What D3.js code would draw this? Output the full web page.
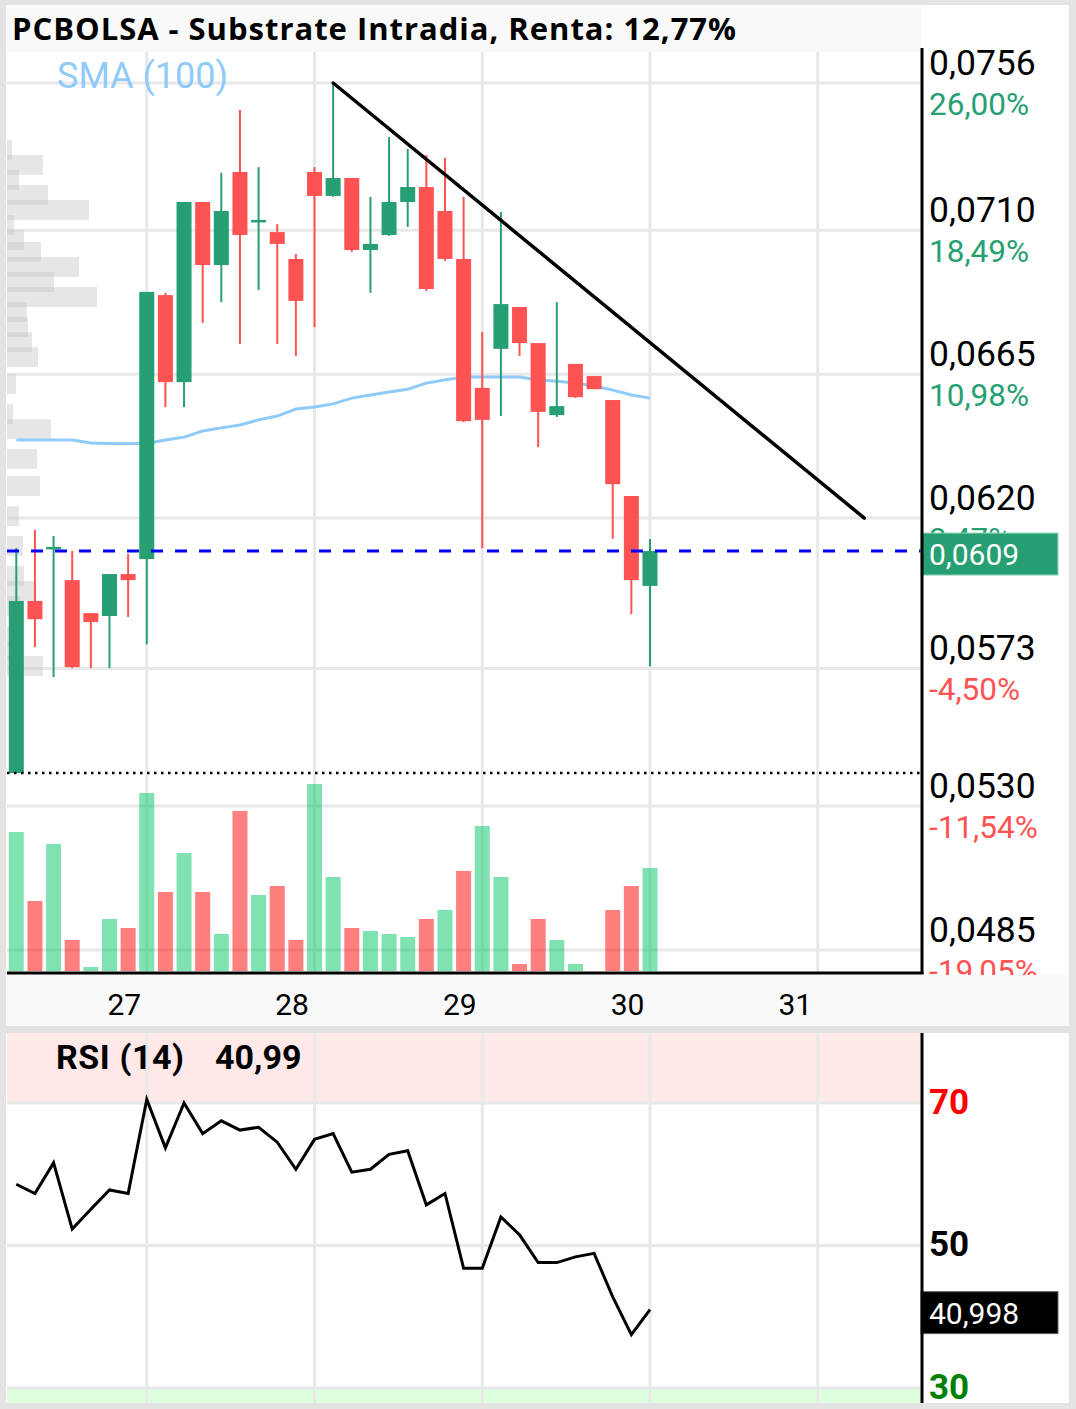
<!DOCTYPE html>
<html>
<head>
<meta charset="utf-8">
<script src="https://cdn.jsdelivr.net/npm/d3@7"></script>
<style>
  body { margin: 0; background: #fff; }
  svg { display: block; }
</style>
</head>
<body>
<div id="content"></div>
<script>
// Chart data (hourly candles, 9 per session)
const open  = [0.05403, 0.05941, 0.06103, 0.06006, 0.05903, 0.05894, 0.06025, 0.06072, 0.06897, 0.06625,
               0.07188, 0.06991, 0.07282, 0.07126, 0.07094, 0.07010, 0.07282, 0.07207, 0.07263, 0.07038,
               0.07085, 0.07188, 0.07235, 0.07160, 0.07010, 0.06607, 0.06729, 0.06860, 0.06747, 0.06522,
               0.06682, 0.06644, 0.06569, 0.06269, 0.05988];
const high  = [0.06106, 0.06163, 0.06144, 0.06097, 0.05903, 0.06025, 0.06088, 0.06907, 0.06904, 0.07188,
               0.07188, 0.07279, 0.07476, 0.07297, 0.07119, 0.07026, 0.07297, 0.07560, 0.07263, 0.07204,
               0.07391, 0.07354, 0.07335, 0.07326, 0.07204, 0.06782, 0.07157, 0.06860, 0.06747, 0.06875,
               0.06682, 0.06644, 0.06569, 0.06269, 0.06135];
const low   = [0.05403, 0.05797, 0.05703, 0.05731, 0.05731, 0.05731, 0.05891, 0.05806, 0.06547, 0.06547,
               0.06810, 0.06875, 0.06744, 0.06913, 0.06744, 0.06707, 0.06797, 0.07204, 0.07032, 0.06904,
               0.07082, 0.07110, 0.06910, 0.07004, 0.06500, 0.06106, 0.06519, 0.06707, 0.06422, 0.06516,
               0.06575, 0.06603, 0.06135, 0.05900, 0.05737];
const close = [0.05941, 0.05884, 0.06110, 0.05734, 0.05875, 0.06025, 0.06006, 0.06907, 0.06625, 0.07188,
               0.06991, 0.07160, 0.07085, 0.07132, 0.07057, 0.06879, 0.07207, 0.07263, 0.07038, 0.07057,
               0.07188, 0.07235, 0.06916, 0.07010, 0.06503, 0.06507, 0.06869, 0.06747, 0.06532, 0.06550,
               0.06578, 0.06603, 0.06306, 0.06006, 0.06097];
const volume = [139, 70, 127, 31, 4, 52, 43, 178, 79, 118, 79, 37, 160, 76, 85, 31, 187, 94, 43, 40,
                37, 34, 52, 61, 100, 145, 94, 7, 52, 31, 7, 0, 61, 85, 103];
const sma100 = [0.06444, 0.06444, 0.06444, 0.06444, 0.06435, 0.06433, 0.06433, 0.06433, 0.06444, 0.06453,
                0.06472, 0.06482, 0.06491, 0.06507, 0.06519, 0.06541, 0.06547, 0.06557, 0.06575, 0.06585,
                0.06594, 0.06603, 0.06622, 0.06632, 0.06641, 0.06641, 0.06641, 0.06641, 0.06632, 0.06628,
                0.06622, 0.06613, 0.06600, 0.06585, 0.06575];
const rsi14 = [58.6, 57.3, 61.6, 52.3, 55.1, 57.8, 57.3, 70.5, 63.7, 70.0,
               65.7, 67.5, 66.2, 66.6, 64.5, 60.7, 64.9, 65.7, 60.3, 60.7,
               62.8, 63.3, 55.7, 57.3, 46.8, 46.8, 54.0, 51.5, 47.6, 47.6,
               48.4, 48.9, 42.8, 37.5, 41.0];

// Volume profile (price level, volume)
const profilePrice = [0.07351, 0.07304, 0.07257, 0.07210, 0.07163, 0.07116, 0.07069, 0.07032, 0.06985, 0.06938,
                      0.06891, 0.06844, 0.06797, 0.06750, 0.06703, 0.06619, 0.06525, 0.06478, 0.06385, 0.06300,
                      0.06206, 0.06113, 0.06019, 0.05972, 0.05925, 0.05831, 0.05784, 0.05738];
const profileVol = [5, 36, 12, 41, 82, 7, 17, 34, 72, 47, 90, 20, 21, 25, 31, 9, 6, 44, 30, 33,
                    12, 16, 17, 28, 13, 7, 15, 36];

// Axis ticks
const dayLabels = ["27", "28", "29", "30", "31"];
const dayStart = [7, 16, 25, 34, 43];
const priceTicks = [0.0756, 0.0710, 0.0665, 0.0620, 0.0573, 0.0530, 0.0485];
const pctTicks = [26.00, 18.49, 10.98, 3.47, -4.50, -11.54, -19.05];
const rsiTicks = [70, 50, 30];
const rsiTickColor = ["#ff0000", "#000000", "#008000"];

// Trend line drawn by hand (candle index, price)
const trendLine = [[17, 0.0756], [45.5, 0.0620]];
const lastPrice = 0.0609;
const lastRsi = 40.998;
const title = "PCBOLSA - Substrate Intradia, Renta: 12,77%";

// Layout
const width = 1076;
const height = 1409;
const left = 7, right = 922;
const green = "#26a072", red = "#ff5252";
const gridColor = "#e8e8e8";

const locale = d3.formatLocale({decimal: ",", thousands: ".", grouping: [3], currency: ["", ""], minus: "-"});
const fmtPrice = locale.format(".4f");
const fmtPct = locale.format(".2f");
const fmtRsi3 = locale.format(".3f");
const fmtRsi2 = locale.format(".2f");

// Scales
const x = d3.scaleLinear().domain([0, 34]).range([16.3, 650]);
const y = d3.scaleLinear().domain([0.0485, 0.0756]).range([950, 83]);
const yVol = d3.scaleLinear().domain([0, 200]).range([971, 771]);
const yRsi = d3.scaleLinear().domain([30, 70]).range([1388, 1103]);
const wProf = d3.scaleLinear().domain([0, 100]).range([0, 100]);
const candleW = 15;

const svg = d3.select("#content")
  .append("svg")
  .attr("width", width)
  .attr("height", height)
  .attr("viewBox", `0 0 ${width} ${height}`)
  .style("font-family", "Roboto, sans-serif");

// Frame and panel backgrounds
svg.append("rect").attr("width", width).attr("height", height).attr("fill", "#e3e3e3");
svg.append("rect").attr("x", 6).attr("y", 5).attr("width", 1063).attr("height", 1398).attr("fill", "#fff");
svg.append("rect").attr("x", left).attr("y", 5).attr("width", right - left).attr("height", 47).attr("fill", "#f9f9f9");

// Price pane grid
const price = svg.append("g");
price.selectAll("line.vgrid")
  .data(dayStart)
  .enter().append("line")
  .attr("x1", d => x(d)).attr("x2", d => x(d))
  .attr("y1", 52).attr("y2", 972)
  .attr("stroke", gridColor).attr("stroke-width", 3);
price.selectAll("line.hgrid")
  .data(priceTicks)
  .enter().append("line")
  .attr("x1", left).attr("x2", right)
  .attr("y1", d => y(d)).attr("y2", d => y(d))
  .attr("stroke", gridColor).attr("stroke-width", 3);

// Volume profile on the left
const binHalf = 0.00031;
price.selectAll("rect.profile")
  .data(profilePrice)
  .enter().append("rect")
  .attr("x", left)
  .attr("y", d => y(d + binHalf))
  .attr("width", (d, i) => wProf(profileVol[i]))
  .attr("height", d => y(d - binHalf) - y(d + binHalf))
  .attr("fill", "rgba(195,195,195,0.42)");

// Volume bars
price.selectAll("rect.vol")
  .data(volume)
  .enter().append("rect")
  .attr("x", (d, i) => x(i) - candleW / 2)
  .attr("y", d => yVol(d))
  .attr("width", candleW)
  .attr("height", d => yVol(0) - yVol(d))
  .attr("fill", (d, i) => (i === 0 || close[i] >= close[i - 1]) ? "rgba(0,200,100,0.5)" : "rgba(255,0,0,0.5)");

// SMA line
price.append("path")
  .datum(sma100)
  .attr("fill", "none")
  .attr("stroke", "#90caf9")
  .attr("stroke-width", 3)
  .attr("d", d3.line().x((d, i) => x(i)).y(d => y(d)));

// Candles
const candles = price.selectAll("g.candle")
  .data(close)
  .enter().append("g")
  .attr("fill", (d, i) => d >= open[i] ? green : red)
  .attr("stroke", (d, i) => d >= open[i] ? green : red);
candles.append("line")
  .attr("x1", (d, i) => x(i)).attr("x2", (d, i) => x(i))
  .attr("y1", (d, i) => y(high[i])).attr("y2", (d, i) => y(low[i]))
  .attr("stroke-width", 2);
candles.append("rect")
  .attr("stroke", "none")
  .attr("x", (d, i) => x(i) - candleW / 2)
  .attr("width", candleW)
  .attr("y", (d, i) => y(Math.max(d, open[i])))
  .attr("height", (d, i) => Math.max(2.5, Math.abs(y(d) - y(open[i]))));

// Last price line and lowest low line
price.append("line")
  .attr("x1", left).attr("x2", right)
  .attr("y1", y(close[close.length - 1])).attr("y2", y(close[close.length - 1]))
  .attr("stroke", "#0000ff").attr("stroke-width", 3).attr("stroke-dasharray", "12 12");
price.append("line")
  .attr("x1", left).attr("x2", right)
  .attr("y1", y(d3.min(low))).attr("y2", y(d3.min(low)))
  .attr("stroke", "#000").attr("stroke-width", 2.5).attr("stroke-dasharray", "2.5 4.5");

// Trend line
price.append("line")
  .attr("x1", x(trendLine[0][0])).attr("y1", y(trendLine[0][1]))
  .attr("x2", x(trendLine[1][0])).attr("y2", y(trendLine[1][1]))
  .attr("stroke", "#000").attr("stroke-width", 3.5).attr("stroke-linecap", "round");

// Price axis labels
const yAxis = d3.axisRight(y).tickValues(priceTicks).tickFormat(fmtPrice).tickSize(0).tickPadding(0);
const gy = svg.append("g")
  .attr("transform", `translate(929,0)`)
  .call(yAxis)
  .call(g => g.select(".domain").remove());
gy.selectAll(".tick text")
  .attr("dy", -9).attr("font-size", 35.5).attr("font-family", "Roboto, sans-serif").attr("fill", "#000");
gy.selectAll(".tick").append("text")
  .attr("x", 0).attr("dy", 31)
  .attr("font-size", 31.5).attr("font-family", "Roboto, sans-serif")
  .attr("fill", d => pctTicks[priceTicks.indexOf(d)] >= 0 ? green : red)
  .text(d => fmtPct(pctTicks[priceTicks.indexOf(d)]) + "%");

// Last price box (covers the 3,47% label as in the app)
svg.append("rect")
  .attr("x", 921).attr("y", y(close[close.length - 1]) - 18)
  .attr("width", 137).attr("height", 42)
  .attr("fill", green).attr("stroke", "#8fd6b8").attr("stroke-width", 1);
svg.append("text")
  .attr("x", 929).attr("y", y(close[close.length - 1]) + 14)
  .attr("font-size", 30).attr("fill", "#fff")
  .text(fmtPrice(lastPrice));

// SMA legend and title
svg.append("text")
  .attr("x", 57).attr("y", 88)
  .attr("font-size", 36).attr("fill", "#90caf9")
  .text("SMA (100)");
svg.append("text")
  .attr("x", 12).attr("y", 40)
  .attr("font-family", "'Open Sans', sans-serif")
  .attr("font-size", 31).attr("font-weight", "bold").attr("fill", "#000")
  .attr("textLength", 724).attr("lengthAdjust", "spacing")
  .text(title);

// X axis band (covers clipped labels)
svg.append("rect").attr("x", 6).attr("y", 975).attr("width", 1063).attr("height", 51).attr("fill", "#f9f9f9");
svg.append("rect").attr("x", 6).attr("y", 1026).attr("width", 1063).attr("height", 7).attr("fill", "#e2e2e2");

const xAxis = d3.axisBottom(x).tickValues(dayStart).tickFormat((d, i) => dayLabels[i]).tickSize(0).tickPadding(0);
svg.append("g")
  .attr("transform", "translate(-23,1015)")
  .call(xAxis)
  .call(g => g.select(".domain").remove())
  .selectAll("text")
  .attr("y", 0).attr("dy", 0)
  .attr("font-size", 30).attr("font-family", "Roboto, sans-serif").attr("fill", "#000");

// Axis lines of the price pane
svg.append("line").attr("x1", left).attr("x2", right + 1.5).attr("y1", 973).attr("y2", 973)
  .attr("stroke", "#000").attr("stroke-width", 3);
svg.append("line").attr("x1", right).attr("x2", right).attr("y1", 48).attr("y2", 974)
  .attr("stroke", "#000").attr("stroke-width", 3);

// RSI pane
const rsi = svg.append("g");
rsi.append("rect").attr("x", left).attr("y", 1033).attr("width", right - left).attr("height", yRsi(70) - 1033)
  .attr("fill", "rgba(255,0,0,0.09)");
rsi.append("rect").attr("x", left).attr("y", yRsi(30)).attr("width", right - left).attr("height", 1403 - yRsi(30))
  .attr("fill", "rgba(0,255,0,0.13)");
rsi.selectAll("line.vgrid")
  .data(dayStart)
  .enter().append("line")
  .attr("x1", d => x(d)).attr("x2", d => x(d))
  .attr("y1", 1033).attr("y2", 1403)
  .attr("stroke", gridColor).attr("stroke-width", 3);
rsi.selectAll("line.hgrid")
  .data(rsiTicks)
  .enter().append("line")
  .attr("x1", left).attr("x2", right)
  .attr("y1", d => yRsi(d)).attr("y2", d => yRsi(d))
  .attr("stroke", gridColor).attr("stroke-width", 3);
rsi.append("path")
  .datum(rsi14)
  .attr("fill", "none")
  .attr("stroke", "#000")
  .attr("stroke-width", 3)
  .attr("stroke-linejoin", "miter")
  .attr("d", d3.line().x((d, i) => x(i)).y(d => yRsi(d)));

rsi.append("text")
  .attr("x", 56).attr("y", 1069)
  .attr("font-size", 34).attr("font-weight", "bold").attr("fill", "#000")
  .attr("textLength", 128).attr("lengthAdjust", "spacing")
  .text("RSI (14)");
rsi.append("text")
  .attr("x", 215).attr("y", 1069)
  .attr("font-size", 34).attr("font-weight", "bold").attr("fill", "#000")
  .text(fmtRsi2(lastRsi - 0.008));

const rAxis = d3.axisRight(yRsi).tickValues(rsiTicks).tickFormat(d => d).tickSize(0).tickPadding(0);
rsi.append("g")
  .attr("transform", "translate(929,0)")
  .call(rAxis)
  .call(g => g.select(".domain").remove())
  .selectAll("text")
  .attr("dy", 10)
  .attr("font-size", 35).attr("font-weight", "bold").attr("font-family", "Roboto, sans-serif")
  .attr("fill", (d, i) => rsiTickColor[i]);

rsi.append("rect")
  .attr("x", 921).attr("y", yRsi(lastRsi) - 18)
  .attr("width", 137).attr("height", 42)
  .attr("fill", "#000").attr("stroke", "#666").attr("stroke-width", 1);
rsi.append("text")
  .attr("x", 929).attr("y", yRsi(lastRsi) + 14)
  .attr("font-size", 30).attr("fill", "#fff")
  .text(fmtRsi3(lastRsi));

rsi.append("line").attr("x1", right).attr("x2", right).attr("y1", 1033).attr("y2", 1403)
  .attr("stroke", "#000").attr("stroke-width", 3);
</script>
</body>
</html>
